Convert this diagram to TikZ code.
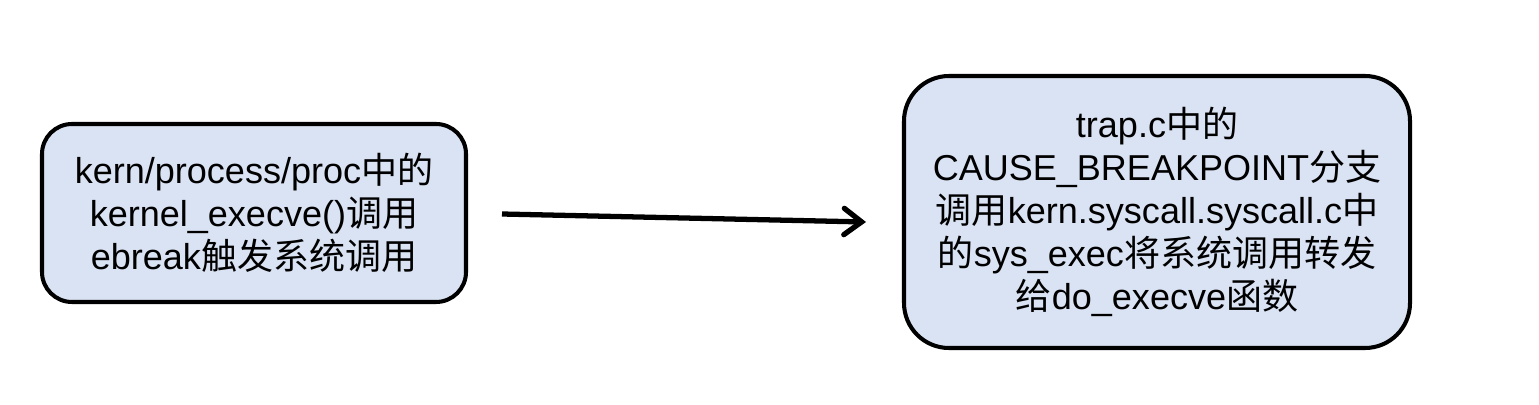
\documentclass[tikz,border=0pt]{standalone}
\usepackage{fontspec}
\setmainfont{Liberation Sans}
\newfontfamily\cjk{Noto Sans CJK SC}
\newcommand{\zh}[1]{{\cjk #1}}
\usepackage{tikz}
\usetikzlibrary{arrows.meta}
\usetikzlibrary{positioning}
\definecolor{boxfill}{HTML}{DAE3F3}

\begin{document}
\begin{tikzpicture}[>={Straight Barb[length=10pt,width=15pt,line cap=round]},
    proc node/.style={rectangle,draw=black,fill=boxfill,line width=2.3pt,align=center,
      font=\fontsize{20.5}{24.5}\selectfont,inner sep=0pt},
    small proc/.style={proc node,rounded corners=0.6cm,minimum width=8.48cm,minimum height=3.56cm},
    big proc/.style={proc node,rounded corners=0.9cm,minimum width=10.12cm,minimum height=5.44cm}]
  \useasboundingbox (0,0) rectangle (30.78,8.08);
  \node[small proc] (proc) at (5.08,3.82) {kern/process/proc\zh{中的}\\kernel\_execve()\zh{调用}\\ebreak\zh{触发系统调用}};
  \node[big proc] (trap) at (23.14,3.84) {trap.c\zh{中的}\\CAUSE\_BREAKPOINT\zh{分支}\\\zh{调用}kern.syscall.syscall.c\zh{中}\\\zh{的}sys\_exec\zh{将系统调用转发}\\\zh{给}do\_execve\zh{函数}};
  \coordinate (from) at (10.04,3.80);
  \coordinate (to) at (17.32,3.64);
  %\draw[->] (proc) -- (trap);
  \path[->,line width=3pt] (from) edge (to);
\end{tikzpicture}
\end{document}
